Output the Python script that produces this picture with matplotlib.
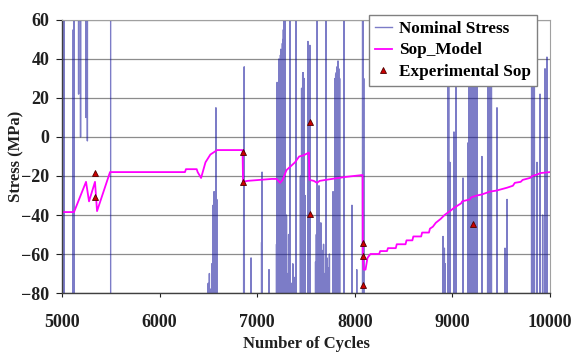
import matplotlib
matplotlib.use("Agg")
import matplotlib.pyplot as plt

# ---------------- data ----------------
# Nominal stress: load reversals. Each reversal is a
# (cycle, peak) pair that starts from / returns to a base level outside the
# plotted range (-100 = below the axis, 100 = above the axis).
spike_cycles = [5004, 5008, 5012, 5016, 5020, 5115, 5120, 5127,
                5170, 5190, 5245, 5260, 5500,
                6498, 6510, 6522, 6535, 6548, 6558, 6568, 6577, 6586,
                6862, 6867, 6937, 7045, 7050, 7121,
                7198, 7204, 7212, 7218, 7222, 7228, 7232, 7238, 7242, 7248, 7252,
                7258, 7262, 7268, 7272, 7278, 7285, 7292, 7300, 7312, 7322, 7336,
                7350, 7365, 7380, 7398,
                7443, 7455, 7466, 7469, 7472, 7480, 7490, 7520, 7540,
                7598, 7606, 7615, 7624, 7633, 7642, 7652, 7661, 7670, 7680, 7690,
                7705, 7715, 7728, 7740, 7777,
                7797, 7804, 7810, 7818, 7828, 7836, 7845, 7890, 7971, 8020,
                8080, 8086, 8092,
                8904, 8918, 8926, 8955, 8962, 8975, 9016, 9037, 9109, 9160,
                9168, 9172, 9178, 9182, 9188, 9195, 9202, 9210, 9218, 9225, 9232,
                9240, 9246, 9252, 9303, 9362, 9368, 9372, 9378, 9385, 9392, 9400,
                9457, 9539, 9560,
                9812, 9822, 9840, 9867, 9898, 9925, 9949, 9969]
spike_peaks = [100, 37, 7, 100, 100, 55, 100, 100,
               22, 0, 10, -2, -100,
               -75, -70, -78, -65, -35, -28, -30, 15, -32,
               10, 36, -62, -54, -18, -68,
               -55, 28, 20, 25, 40, 38, 35, 42, 45, 40, 30,
               48, 50, 55, 100, 60, 100, -60, -40, -70, -50, 100,
               -75, -65, -72, 100,
               -20, 25, 32, 33, 33, 30, -30, 49, 47,
               -64, -50, 100, -62, -25, -66, -44, -58, -68, -55, -70,
               100, -62, -67, -60, -28,
               30, 32, 33, 36, 39, 35, 30, 100, -35, -68,
               100, 100, 30,
               -51, -57, -65, 100, 100, -13, 2.6, 100, -21, -3,
               45, 50, 70, 100, 60, 40, 70, 100, 50, 30, 65,
               100, 70, 100, -10, 40, 70, 100, 75, 100, 60, 35,
               15, -57, -32,
               100, 100, 100, -13, 22, -40, 35, 41]
spike_bases = [-100, -100, -100, -100, -100, -100, -100, 100,
               100, 100, 100, 100, -100,
               -100, -100, -100, -100, -100, -100, -100, -100, -100,
               -100, -100, -100, -100, -100, -100,
               -100, -100, -100, -100, -100, -100, -100, -100, -100, -100, -100,
               -100, -100, -100, -100, -100, -100, -100, -100, -100, -100, -100,
               -100, -100, -100, -100,
               -100, -100, -100, -100, -100, -100, -100, -100, -100,
               -100, -100, -100, -100, -100, -100, -100, -100, -100, -100, -100,
               -100, -100, -100, -100, -100,
               -100, -100, -100, -100, -100, -100, -100, -100, -100, -100,
               -100, -100, -100,
               -100, -100, -100, -100, -100, -100, -100, -100, -100, -100,
               -100, -100, -100, -100, -100, -100, -100, -100, -100, -100, -100,
               -100, -100, -100, -100, -100, -100, -100, -100, -100, -100, -100,
               -100, -100, -100,
               -100, -100, -100, -100, -100, -100, -100, -100]

# Sop model (cycle, MPa)
sop_cycles = [5000, 5123, 5246, 5277, 5338, 5359, 5492, 6260, 6270, 6380, 6390, 6425,
              6470, 6520, 6590, 6850, 6855, 6900, 7150, 7200, 7235, 7260, 7300, 7387,
              7430, 7470, 7530, 7535, 7580, 7613, 7640, 7700, 7900, 8080,
              8082, 8090, 8110, 8130, 8160, 8250, 8260, 8330, 8340, 8420, 8430, 8520,
              8530, 8590, 8600, 8680, 8690, 8760, 8770, 8800, 8830, 8880, 8920, 8975,
              9000, 9027, 9090, 9100, 9180, 9190, 9250, 9300, 9385, 9450, 9560, 9620,
              9640, 9700, 9720, 9795, 9820, 9880, 9900, 10000]
sop_stress = [-38.5, -38.5, -23, -33, -23, -38, -18, -18, -16.5, -16.5, -18, -21,
              -13, -9, -6.7, -6.7, -23, -22.5, -21.5, -21.5, -23.5, -22, -17, -13,
              -10, -9.5, -8, -22, -22.5, -23.5, -22.5, -22, -20.5, -19.5,
              -62, -68, -68, -62, -60, -60, -58.5, -58.5, -57, -57, -55, -55,
              -53, -53, -51, -51, -49, -49, -47, -46, -44, -42, -40, -38,
              -37, -36, -34, -33, -32, -31, -30, -29.5, -28, -27.5, -26, -25,
              -23.5, -23, -22, -21, -20, -19, -18.5, -18]

# Experimental Sop
exp_cycles = [5338, 5338, 6855, 6855, 7540, 7540, 8084, 8084, 8084, 9211]
exp_stress = [-18.5, -31, -7.7, -23, 7.7, -39.5, -54.5, -61, -76, -44.6]

x_ticks = [5000, 6000, 7000, 8000, 9000, 10000]
y_ticks = [-80, -60, -40, -20, 0, 20, 40, 60]

# build the nominal stress polyline from the reversal table
HALF = 1.5
nom_cycles, nom_stress = [], []
prev_base = spike_bases[0]
for c, p, b in zip(spike_cycles, spike_peaks, spike_bases):
    if b != prev_base:
        nom_cycles.append(c - HALF)
        nom_stress.append(prev_base)
    nom_cycles += [c - HALF, c, c + HALF]
    nom_stress += [b, p, b]
    prev_base = b

# ---------------- plot ----------------
serif = ['Liberation Serif', 'DejaVu Serif']
plt.rcParams['font.family'] = serif
plt.rcParams['font.weight'] = 'bold'

fig = plt.figure(figsize=(5.72, 3.52), dpi=100)
ax = fig.add_axes([0.1084, 0.1676, 0.8531, 0.7756])

ax.set_xlim(5000, 10000)
ax.set_ylim(-80, 60)
ax.set_xticks(x_ticks)
ax.set_yticks(y_ticks)
ax.grid(True, axis='y', color='#8c8c8c', linewidth=0.9)
ax.set_axisbelow(True)

nom_line, = ax.plot(nom_cycles, nom_stress, color='#10109a', alpha=0.55,
                    linewidth=1.0, label='Nominal Stress')
sop_line, = ax.plot(sop_cycles, sop_stress, color='#ff00ff', linewidth=1.3,
                    label='Sop_Model')
exp_pts, = ax.plot(exp_cycles, exp_stress, linestyle='none', marker='^',
                   markersize=4.5, markerfacecolor='#cc0000',
                   markeredgecolor='#500000', markeredgewidth=0.6,
                   label='Experimental Sop')

for s in ['left', 'bottom']:
    ax.spines[s].set_color('#404040')
    ax.spines[s].set_linewidth(1.0)
for s in ['top', 'right']:
    ax.spines[s].set_color('#a0a0a0')
    ax.spines[s].set_linewidth(0.8)

ax.tick_params(axis='x', direction='out', length=3, width=0.8, pad=12,
               labelsize=13, colors='#202020')
ax.tick_params(axis='y', direction='out', length=4, width=0.8, pad=5,
               labelsize=13, colors='#202020')
for lab in ax.get_xticklabels() + ax.get_yticklabels():
    lab.set_fontweight('bold')

ax.set_xlabel('Number of Cycles', fontsize=12, fontweight='bold', labelpad=4,
              color='#202020')
ax.set_ylabel('Stress (MPa)', fontsize=12, fontweight='bold', color='#202020')
ax.yaxis.set_label_coords(-0.078, 0.5)

leg = ax.legend(handles=[nom_line, sop_line, exp_pts], loc='upper right',
                bbox_to_anchor=(0.973, 1.02), borderaxespad=0, frameon=True,
                fancybox=False, framealpha=1, edgecolor='#808080',
                handlelength=1.0, handletextpad=0.4, borderpad=0.35,
                labelspacing=0.35,
                prop={'family': serif, 'weight': 'bold', 'size': 12.3})
leg.get_frame().set_linewidth(1.0)

fig.savefig('out.png', dpi=100)
